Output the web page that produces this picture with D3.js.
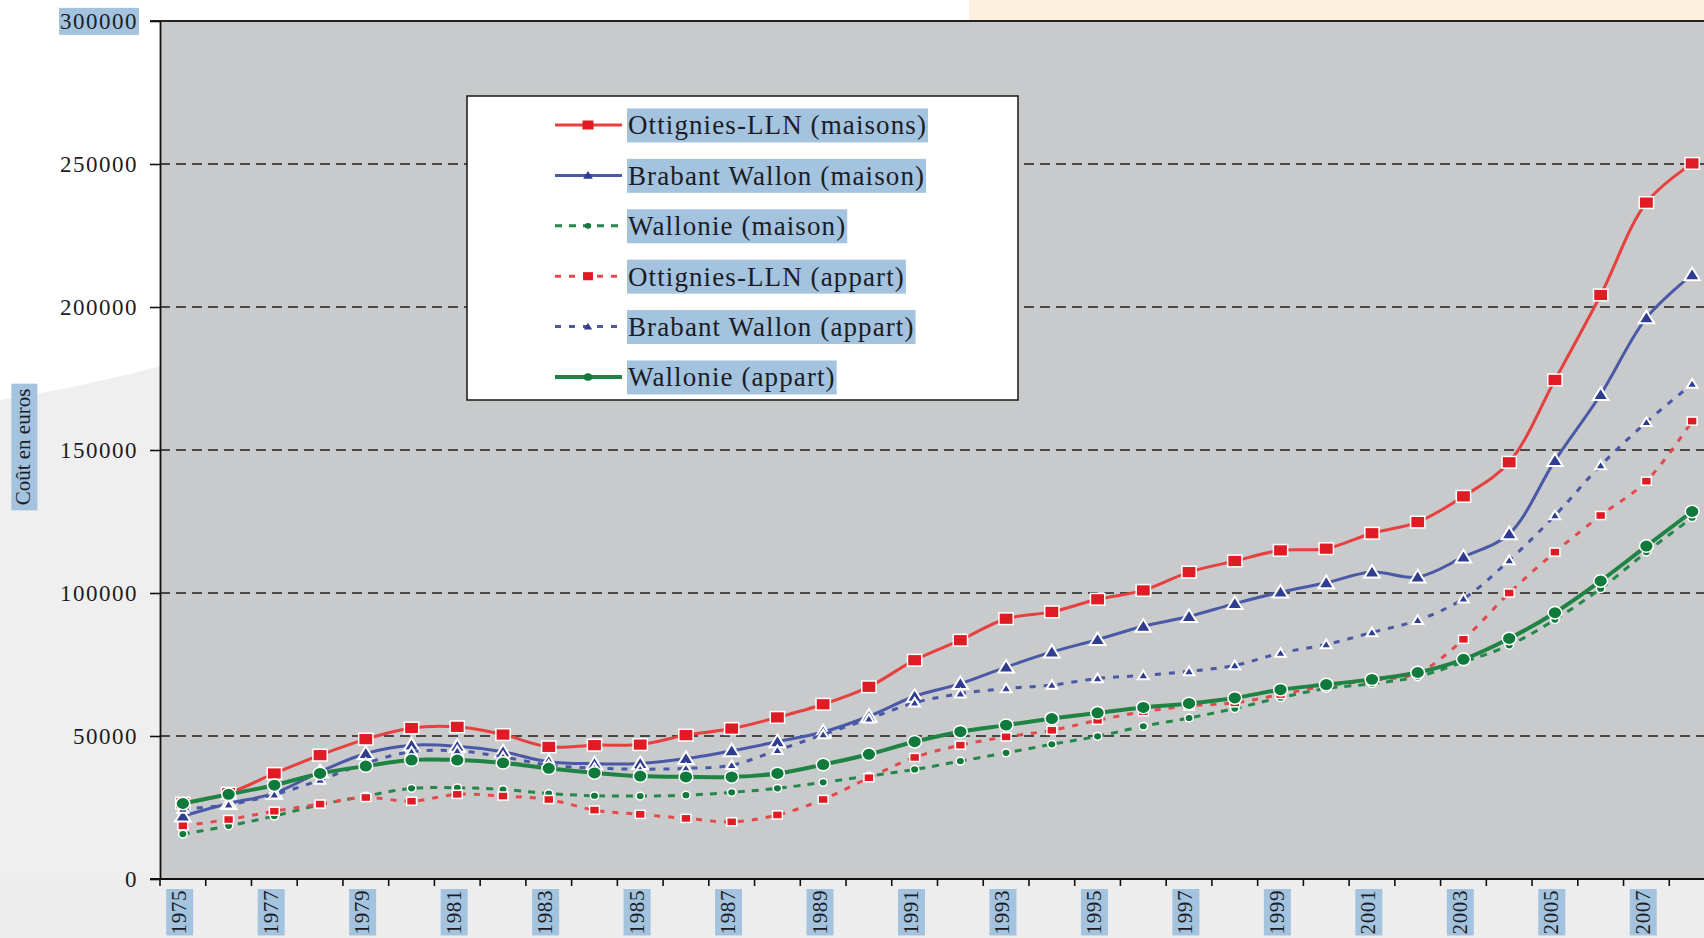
<!DOCTYPE html>
<html>
<head>
<meta charset="utf-8">
<script src="https://cdn.jsdelivr.net/npm/d3@7/dist/d3.min.js"></script>
<style>
  body { margin: 0; background: #fff; overflow: hidden; }
  text { font-family: "Liberation Serif", "Times New Roman", serif; fill: #1c1c26; }
</style>
</head>
<body>
<div id="chart"></div>
<script>
// Data
const years = [1975, 1976, 1977, 1978, 1979, 1980, 1981, 1982, 1983, 1984, 1985, 1986,
  1987, 1988, 1989, 1990, 1991, 1992, 1993, 1994, 1995, 1996, 1997, 1998, 1999, 2000,
  2001, 2002, 2003, 2004, 2005, 2006, 2007, 2008];
const yearLabels = ["1975", "1977", "1979", "1981", "1983", "1985", "1987", "1989", "1991",
  "1993", "1995", "1997", "1999", "2001", "2003", "2005", "2007"];
const yTicks = [0, 50000, 100000, 150000, 200000, 250000, 300000];

const ottMaisons = [26500, 30000, 36900, 43300, 48900, 52800, 53200, 50500, 46200, 46800, 47000, 50300,
  52600, 56500, 61100, 67200, 76500, 83500, 91000, 93400, 97800, 100900, 107300, 111200, 114900, 115500,
  120900, 124800, 133800, 145700, 174500, 204200, 236500, 250200];
const bwMaison = [22000, 26400, 30000, 37500, 43900, 46800, 46400, 44500, 41000, 40300, 40400, 42100,
  44800, 48000, 51400, 56900, 63900, 68300, 74100, 79400, 83700, 88400, 91800, 96300, 100300, 103600,
  107300, 105600, 112600, 120700, 146300, 169400, 196200, 211300];
const walMaison = [15700, 18600, 22000, 26000, 29000, 31700, 31900, 31300, 29900, 29100, 29000, 29300,
  30300, 31700, 33800, 36000, 38300, 41200, 44100, 47100, 49900, 53400, 56300, 59600, 63400, 66600,
  68300, 70700, 75900, 81700, 90700, 101500, 114300, 126300];
const ottAppart = [18600, 20800, 23700, 26200, 28500, 27200, 29600, 29000, 27800, 24100, 22600, 21200,
  20000, 22400, 27800, 35400, 42500, 46800, 49700, 52000, 55500, 58500, 60500, 61600, 64500, 67500,
  69500, 72000, 83800, 100000, 114300, 127100, 139100, 160100];
const bwAppart = [24500, 26000, 29500, 34600, 40500, 44500, 44800, 42700, 39800, 38800, 38400, 38700,
  39800, 45000, 50500, 56000, 61600, 64800, 66600, 67800, 70100, 71200, 72600, 74700, 79000, 82000,
  86200, 90500, 98000, 111400, 127100, 144600, 159700, 173100];
const walAppart = [26400, 29600, 32800, 36900, 39500, 41600, 41600, 40600, 38700, 37100, 36000, 35700,
  35700, 36900, 40000, 43600, 48000, 51500, 53800, 56100, 58100, 60000, 61400, 63300, 66200, 68000,
  69800, 72200, 76800, 84100, 93100, 104200, 116400, 128500];

// series table (drawing order = legend order)
const series = [
  { name: "Ottignies-LLN (maisons)", values: ottMaisons, line: "#e6403f", fill: "#e01b24", dash: null, w: 3, mark: "square", size: 13, lsize: 10 },
  { name: "Brabant Wallon (maison)", values: bwMaison, line: "#4a59a6", fill: "#2f3c8f", dash: null, w: 3, mark: "triangle", size: 13, lsize: 8 },
  { name: "Wallonie (maison)", values: walMaison, line: "#25874a", fill: "#11793b", dash: "7,7", w: 3, mark: "circle", size: 8, lsize: 6 },
  { name: "Ottignies-LLN (appart)", values: ottAppart, line: "#e24a4c", fill: "#e01b24", dash: "6,8", w: 3, mark: "square", size: 9, lsize: 9 },
  { name: "Brabant Wallon (appart)", values: bwAppart, line: "#4a59a6", fill: "#2f3c8f", dash: "6,8", w: 3, mark: "triangle", size: 9, lsize: 7 },
  { name: "Wallonie (appart)", values: walAppart, line: "#1f8344", fill: "#0f7a3b", dash: null, w: 4, mark: "circle", size: 13, lsize: 8 }
];

const width = 1704, height = 938;
const pLeft = 160, pRight = 1715, pTop = 21, pBottom = 879;
const hl = "#a3c3de";

const svg = d3.select("#chart").append("svg")
  .attr("width", width).attr("height", height);

// page background bits
svg.append("rect").attr("width", width).attr("height", height).attr("fill", "#fff");
svg.append("path")
  .attr("d", "M0,400 C50,392 110,380 160,366 L160,938 L0,938 Z")
  .attr("fill", "#efefef");
svg.append("rect").attr("x", 0).attr("y", pBottom).attr("width", width).attr("height", height - pBottom)
  .attr("fill", "#ededed");
svg.append("rect").attr("x", 969).attr("y", 0).attr("width", width - 969).attr("height", pTop)
  .attr("fill", "#fdf0df");

const x = d3.scaleBand().domain(years).range([pLeft, pRight]);
const cx = d => x(d) + x.bandwidth() / 2;
const y = d3.scaleLinear().domain([0, 300000]).range([pBottom, pTop]);

// plot area
svg.append("rect").attr("x", pLeft).attr("y", pTop)
  .attr("width", pRight - pLeft).attr("height", pBottom - pTop)
  .attr("fill", "#c8cacc");

// gridlines
svg.append("g").selectAll("line")
  .data(yTicks.filter(v => v > 0 && v < 300000))
  .enter().append("line")
  .attr("x1", pLeft).attr("x2", pRight)
  .attr("y1", d => y(d)).attr("y2", d => y(d))
  .attr("stroke", "#1e1e1e").attr("stroke-width", 1.6)
  .attr("stroke-dasharray", "10,6");

// top border
svg.append("line").attr("x1", pLeft - 10).attr("x2", pRight)
  .attr("y1", y(300000)).attr("y2", y(300000))
  .attr("stroke", "#222").attr("stroke-width", 2);

// y axis
const yAxis = svg.append("g")
  .attr("transform", `translate(${pLeft},0)`)
  .call(d3.axisLeft(y).tickValues(yTicks).tickSize(10).tickSizeOuter(0).tickPadding(12).tickFormat(d3.format("d")));
yAxis.select(".domain").attr("stroke", "#111").attr("stroke-width", 1.8);
yAxis.selectAll(".tick line").attr("stroke", "#111").attr("stroke-width", 1.6);
yAxis.selectAll(".tick text")
  .style("font-family", '"Liberation Serif", serif')
  .style("font-size", "23px").style("letter-spacing", "1.5px")
  .attr("fill", "#1c1c26");
// highlighted top label
yAxis.selectAll(".tick").filter(d => d === 300000).each(function () {
  const t = d3.select(this).select("text");
  const bb = t.node().getBBox();
  d3.select(this).insert("rect", "text")
    .attr("x", bb.x - 1).attr("y", bb.y - 1)
    .attr("width", bb.width + 2).attr("height", bb.height + 2)
    .attr("fill", hl);
});

// x axis line + ticks at band edges
svg.append("line").attr("x1", pLeft - 10).attr("x2", pRight)
  .attr("y1", pBottom).attr("y2", pBottom)
  .attr("stroke", "#111").attr("stroke-width", 1.8);
svg.append("g").selectAll("line")
  .data(years)
  .enter().append("line")
  .attr("x1", d => x(d)).attr("x2", d => x(d))
  .attr("y1", pBottom).attr("y2", pBottom + 7)
  .attr("stroke", "#111").attr("stroke-width", 1.6);

// x labels (rotated, highlighted)
yearLabels.forEach(lab => {
  const g = svg.append("g")
    .attr("transform", `translate(${cx(+lab) - 4},${pBottom + 11}) rotate(-90)`);
  const t = g.append("text")
    .attr("text-anchor", "end").attr("dy", "0.35em")
    .style("font-size", "21px").style("letter-spacing", "0.6px")
    .text(lab);
  const bb = t.node().getBBox();
  g.insert("rect", "text")
    .attr("x", bb.x - 1).attr("y", bb.y - 1)
    .attr("width", bb.width + 2).attr("height", bb.height + 3)
    .attr("fill", hl);
});

// y title
const yt = svg.append("g").attr("transform", "translate(23,447) rotate(-90)");
const ytt = yt.append("text").attr("text-anchor", "middle").attr("dy", "0.35em")
  .style("font-size", "21px").text("Coût en euros");
const ybb = ytt.node().getBBox();
yt.insert("rect", "text").attr("x", ybb.x - 5).attr("y", ybb.y)
  .attr("width", ybb.width + 10).attr("height", ybb.height + 2).attr("fill", hl);

// markers
function marker(sel, type, s, fill) {
  let m;
  if (type === "square") {
    m = sel.append("rect").attr("x", -s * 0.55).attr("y", -s * 0.45)
      .attr("width", s * 1.1).attr("height", s * 0.9);
  } else if (type === "triangle") {
    m = sel.append("path").attr("d", `M0,${-s * 0.55}L${s * 0.6},${s * 0.42}L${-s * 0.6},${s * 0.42}Z`);
  } else {
    m = sel.append("ellipse").attr("rx", s * 0.53).attr("ry", s * 0.48);
  }
  m.attr("fill", fill).attr("stroke", "#fff").attr("stroke-width", type === "triangle" ? 2 : 1.5);
}

const line = d3.line()
  .x((d, i) => cx(years[i]))
  .y(d => y(d))
  .curve(d3.curveCatmullRom.alpha(0.5));

series.forEach(s => {
  svg.append("path")
    .attr("d", line(s.values))
    .attr("fill", "none")
    .attr("stroke", s.line)
    .attr("stroke-width", s.w)
    .attr("stroke-dasharray", s.dash);
  svg.append("g").selectAll("g")
    .data(s.values)
    .enter().append("g")
    .attr("transform", (d, i) => `translate(${cx(years[i])},${y(d)})`)
    .each(function () { marker(d3.select(this), s.mark, s.size, s.fill); });
});

// legend
const lg = svg.append("g");
lg.append("rect").attr("x", 467).attr("y", 96).attr("width", 551).attr("height", 304)
  .attr("fill", "#fff").attr("stroke", "#222").attr("stroke-width", 1.6);
series.forEach((s, i) => {
  const ly = 125 + i * 50.4;
  lg.append("line").attr("x1", 555).attr("x2", 622).attr("y1", ly).attr("y2", ly)
    .attr("stroke", s.line).attr("stroke-width", s.w).attr("stroke-dasharray", s.dash);
  const mg = lg.append("g").attr("transform", `translate(588,${ly})`);
  marker(mg, s.mark, s.lsize, s.fill);
  mg.selectAll("*").attr("stroke", "none");
  const t = lg.append("text").attr("x", 628).attr("y", ly).attr("dy", "0.35em")
    .style("font-size", "27px").style("letter-spacing", "1.1px")
    .text(s.name);
  const bb = t.node().getBBox();
  lg.insert("rect", "text").attr("x", bb.x - 1).attr("y", bb.y - 2)
    .attr("width", bb.width + 2).attr("height", bb.height + 4).attr("fill", hl);
});
</script>
</body>
</html>
